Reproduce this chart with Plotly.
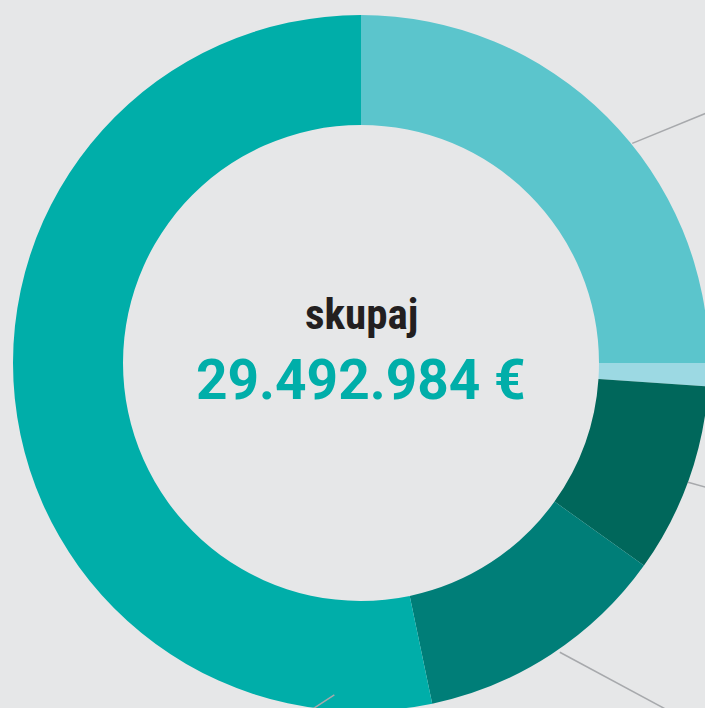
import math
import plotly.graph_objects as go

# ---- data -------------------------------------------------------------
categories = ["Kategorija 1", "Kategorija 2", "Kategorija 3", "Kategorija 4", "Kategorija 5"]
values_eur = [7373000, 316000, 2601000, 3489000, 15713984]
slice_colors = ["#5BC5CC", "#9CD9E3", "#00675B", "#007E78", "#00AEA9"]
center_title = "skupaj"
total_eur = sum(values_eur)

def fmt_eur(v):
    return f"{v:,.0f}".replace(",", ".") + " €"

# ---- geometry (pixels) -------------------------------------------------
W, H = 709, 711
CX, CY, R = 361, 363, 348
HOLE = 238 / 348

fig = go.Figure(go.Pie(
    labels=categories,
    values=values_eur,
    sort=False,
    direction="clockwise",
    rotation=0,
    hole=HOLE,
    marker=dict(colors=slice_colors, line=dict(width=0)),
    textinfo="none",
    hovertemplate="%{label}<br>%{value:,.0f} €<extra></extra>",
    domain=dict(x=[(CX - R) / W, min(1.0, (CX + R) / W)],
                y=[max(0.0, 1 - (CY + R) / H), 1 - (CY - R) / H]),
    showlegend=False,
))

# leader lines towards (off-screen) labels, anchored on slice angles
cum = [0]
for v in values_eur:
    cum.append(cum[-1] + v)
mid_angles = [360 * (cum[i] + cum[i + 1]) / 2 / total_eur for i in range(len(values_eur))]
# (slice index, angle offset from slice midpoint, anchor radius, dx, dy)
leaders = [(0, 6.0, 349, 110, -45), (2, 0.3, 348, 60, 17), (3, -1.4, 351, 160, 86), (4, -79.5, 333, -40, 26)]
shapes = []
for idx, off, rr, dx, dy in leaders:
    a = math.radians(mid_angles[idx] + off)
    x0 = CX + rr * math.sin(a)
    y0 = CY - rr * math.cos(a)
    shapes.append(dict(type="line", xref="paper", yref="paper",
                       x0=x0 / W, y0=1 - y0 / H, x1=(x0 + dx) / W, y1=1 - (y0 + dy) / H,
                       line=dict(color="#A7A9AC", width=1.5), layer="above"))

fig.update_layout(
    width=W, height=H,
    margin=dict(l=0, r=0, t=0, b=0),
    paper_bgcolor="#E6E7E8",
    plot_bgcolor="#E6E7E8",
    shapes=shapes,
    annotations=[
        dict(text=f"<b>{center_title}</b>", x=CX / W, y=1 - CY / H, xref="paper", yref="paper",
             showarrow=False, yshift=49, xanchor="center", yanchor="middle",
             font=dict(family="Roboto Condensed, Roboto", size=43, color="#231F20")),
        dict(text=f"<b>{fmt_eur(total_eur)}</b>", x=CX / W, y=1 - CY / H, xref="paper", yref="paper",
             showarrow=False, yshift=-17, xanchor="center", yanchor="middle",
             font=dict(family="Roboto", size=55, color="#00AEA9")),
    ],
)

fig.write_html("out.html",
               config={"displayModeBar": False},
               post_script="document.body.style.margin='0';document.body.style.overflow='hidden';"
                           "document.documentElement.style.overflow='hidden';")
